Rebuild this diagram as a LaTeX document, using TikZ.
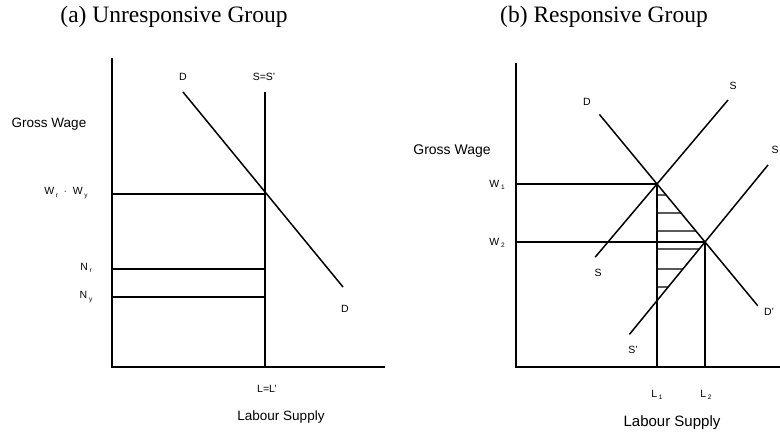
\documentclass[tikz,border=0pt]{standalone}
\usepackage{fontspec}
\setmainfont{Liberation Serif}
\setsansfont{Liberation Sans}
\usetikzlibrary{calc}
\newcommand{\lowsub}[1]{\,\raisebox{-2.5pt}{\fontsize{6.5}{7}\selectfont #1}}

\begin{document}
\begin{tikzpicture}[x=1pt,y=-1pt,
  axis/.style={line width=2pt},
  curve/.style={line width=1.5pt},
  level/.style={line width=1.9pt},
  hatch/.style={line width=1.1pt},
  lbl/.style={font=\sffamily\fontsize{10.5}{12}\selectfont,inner sep=0pt},
  axlbl/.style={font=\sffamily\fontsize{14}{16}\selectfont,inner sep=0pt},
  ttl/.style={font=\fontsize{23.5}{25}\selectfont,inner sep=0pt}]
\useasboundingbox (0,0) rectangle (780,436);

% (a) unresponsive group
\coordinate (aO) at (112,367);
\coordinate (aYtop) at (112,58);
\coordinate (aXend) at (385,367);
\coordinate (aStop) at (265,92);
\coordinate (aDtop) at (183,92);
\coordinate (aDbot) at (343,287);
\coordinate (aE) at (265,194);
\coordinate (aNr) at (265,269);
\coordinate (aNy) at (265,297);
\draw[axis] (aYtop) -- (aO) -- (aXend);
\draw[axis] (aStop) -- (aStop |- aO);
\draw[curve] (aDtop) -- (aDbot);
\draw[level] (aE) -- (aE -| aO);
\draw[level] (aNr) -- (aNr -| aO);
\draw[level] (aNy) -- (aNy -| aO);

\node[ttl] (atitle) at (174,17) {(a) Unresponsive Group};
\node[axlbl,font=\sffamily\fontsize{13.5}{15}\selectfont] (ayl) at (49,124) {Gross Wage};
\node[lbl] (aw) at (66,193) {W\lowsub{r}\ \ $\cdot$\ \ W\lowsub{y}};
\node[lbl] (anr) at (86,268) {N\lowsub{r}};
\node[lbl] (any) at (86,297) {N\lowsub{y}};
\node[lbl] (adt) at (183,77) {D};
\node[lbl] (ass) at (264,77) {S=S'};
\node[lbl] (adb) at (345,309) {D};
\node[lbl] (all) at (267,389) {L=L'};
\node[axlbl,font=\sffamily\fontsize{13.5}{15}\selectfont] (axl) at (281,417) {Labour Supply};

% (b) responsive group
\coordinate (bO) at (516,367);
\coordinate (bYtop) at (516,63);
\coordinate (bXend) at (780,367);
\coordinate (bE1) at (657,184);
\coordinate (bE2) at (705,242);
\coordinate (bDtop) at ($(bE1)!-1.2!(bE2)$);
\coordinate (bDbot) at ($(bE1)!2.1!(bE2)$);
\coordinate (bStop) at (728,100);
\coordinate (bSbot) at ($(bStop)!1.87!(bE1)$);
\coordinate (bTtop) at (768,165);
\coordinate (bTbot) at ($(bTtop)!2.2!(bE2)$);
\draw[axis] (bYtop) -- (bO) -- (bXend);
\draw[curve] (bDtop) -- (bDbot);
\draw[curve] (bStop) -- (bSbot);
\draw[curve] (bTtop) -- (bTbot);
\draw[level] (bE1) -- (bE1 -| bO);
\draw[level] (bE2) -- (bE2 -| bO);
\draw[level] (bE1) -- (bE1 |- bO);
\draw[level] (bE2) -- (bE2 |- bO);
\foreach \y in {195,213,231}
  \draw[hatch] (657,\y) -- (intersection of bDtop--bDbot and 657,\y--700,\y);
\foreach \y in {249,269,287}
  \draw[hatch] (657,\y) -- (intersection of bTtop--bTbot and 657,\y--700,\y);

\node[ttl] (btitle) at (604,17) {(b) Responsive Group};
\node[axlbl] (byl) at (452,151) {Gross Wage};
\node[lbl] (bw1) at (497,185) {W\lowsub{1}};
\node[lbl] (bw2) at (497,243) {W\lowsub{2}};
\node[lbl] (bdt) at (587,102) {D};
\node[lbl] (bst) at (733,86) {S};
\node[lbl] (bsr) at (775,150) {S};
\node[lbl] (bsb) at (598,273) {S};
\node[lbl] (btb) at (633,350) {S'};
\node[lbl] (bdb) at (769,312) {D'};
\node[lbl] (bl1) at (657,395) {L\lowsub{1}};
\node[lbl] (bl2) at (706,395) {L\lowsub{2}};
\node[axlbl,font=\sffamily\fontsize{15}{17}\selectfont] (bxl) at (672,423) {Labour Supply};
\end{tikzpicture}
\end{document}
